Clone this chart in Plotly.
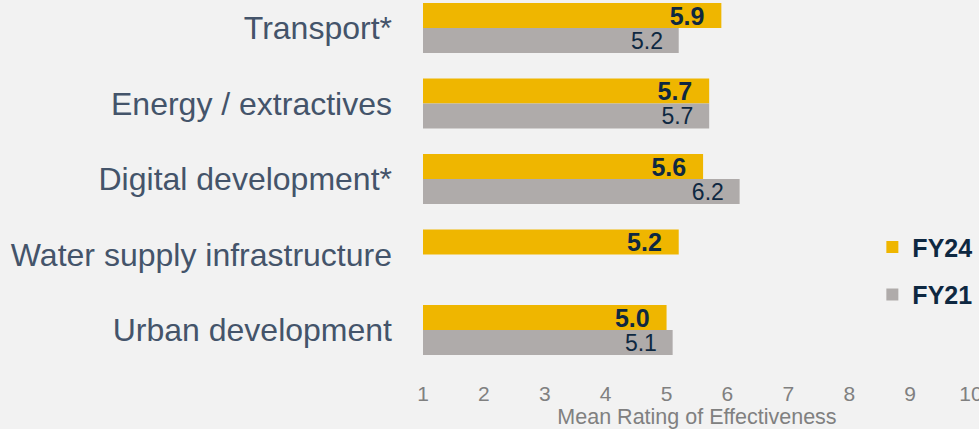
import plotly.graph_objects as go

categories = ["Transport*", "Energy / extractives", "Digital development*",
              "Water supply infrastructure", "Urban development"]
fy24 = [5.9, 5.7, 5.6, 5.2, 5.0]
fy21 = [5.2, 5.7, 6.2, None, 5.1]
tick_vals = [1, 2, 3, 4, 5, 6, 7, 8, 9, 10]

GOLD = "#EFB600"
GREY = "#AFABAA"
NAVY = "#0E2841"
BG = "#F2F2F2"
FONT = "Liberation Sans, Arial, sans-serif"

fig = go.Figure()
fig.add_trace(go.Bar(
    name="FY24", y=categories, x=fy24, orientation="h",
    marker=dict(color=GOLD, line=dict(width=0)),
    text=[f"<b>{v:.1f}</b>&nbsp;&nbsp;" for v in fy24],
    textposition="inside", insidetextanchor="end", constraintext="none",
    insidetextfont=dict(family=FONT, size=25, color=NAVY),
    legendgroup="a",
))
fig.add_trace(go.Bar(
    name="FY21", y=categories, x=fy21, orientation="h",
    marker=dict(color=GREY, line=dict(width=0)),
    text=[("" if v is None else f"{v:.1f}&nbsp;&nbsp;") for v in fy21],
    textposition="inside", insidetextanchor="end", constraintext="none",
    insidetextfont=dict(family=FONT, size=23, color=NAVY),
    legendgroup="b",
))

fig.update_layout(
    width=979, height=429,
    paper_bgcolor=BG, plot_bgcolor=BG,
    margin=dict(l=423, r=8, t=0, b=61, autoexpand=False),
    barmode="group", bargap=0.338, bargroupgap=0,
    font=dict(family=FONT),
    showlegend=True,
    legend=dict(
        x=0.82, y=0.264, xanchor="left", yanchor="middle",
        bgcolor="rgba(0,0,0,0)", traceorder="grouped", tracegroupgap=12,
        font=dict(family=FONT, size=25, color=NAVY, weight="bold"),
    ),
    xaxis=dict(
        range=[1, 10], tickvals=tick_vals, showgrid=False, zeroline=False,
        showline=False, ticks="", ticklabelstandoff=11,
        ticklabeloverflow="allow", automargin=False,
        tickfont=dict(family=FONT, size=21, color="#808080"),
        title=dict(text="Mean Rating of Effectiveness", standoff=9,
                   font=dict(family=FONT, size=21.5, color="#808080")),
    ),
    yaxis=dict(
        categoryorder="array", categoryarray=categories,
        range=[4.503, -0.371], showgrid=False, zeroline=False,
        showline=False, ticks="", ticklabelstandoff=30, automargin=False,
        tickfont=dict(family=FONT, size=32, color="#44546A"),
    ),
)

fig.write_html(
    "out.html",
    config={"displayModeBar": False},
    post_script="document.body.style.margin='0';document.body.style.background='#F2F2F2';document.body.style.overflow='hidden';",
)
